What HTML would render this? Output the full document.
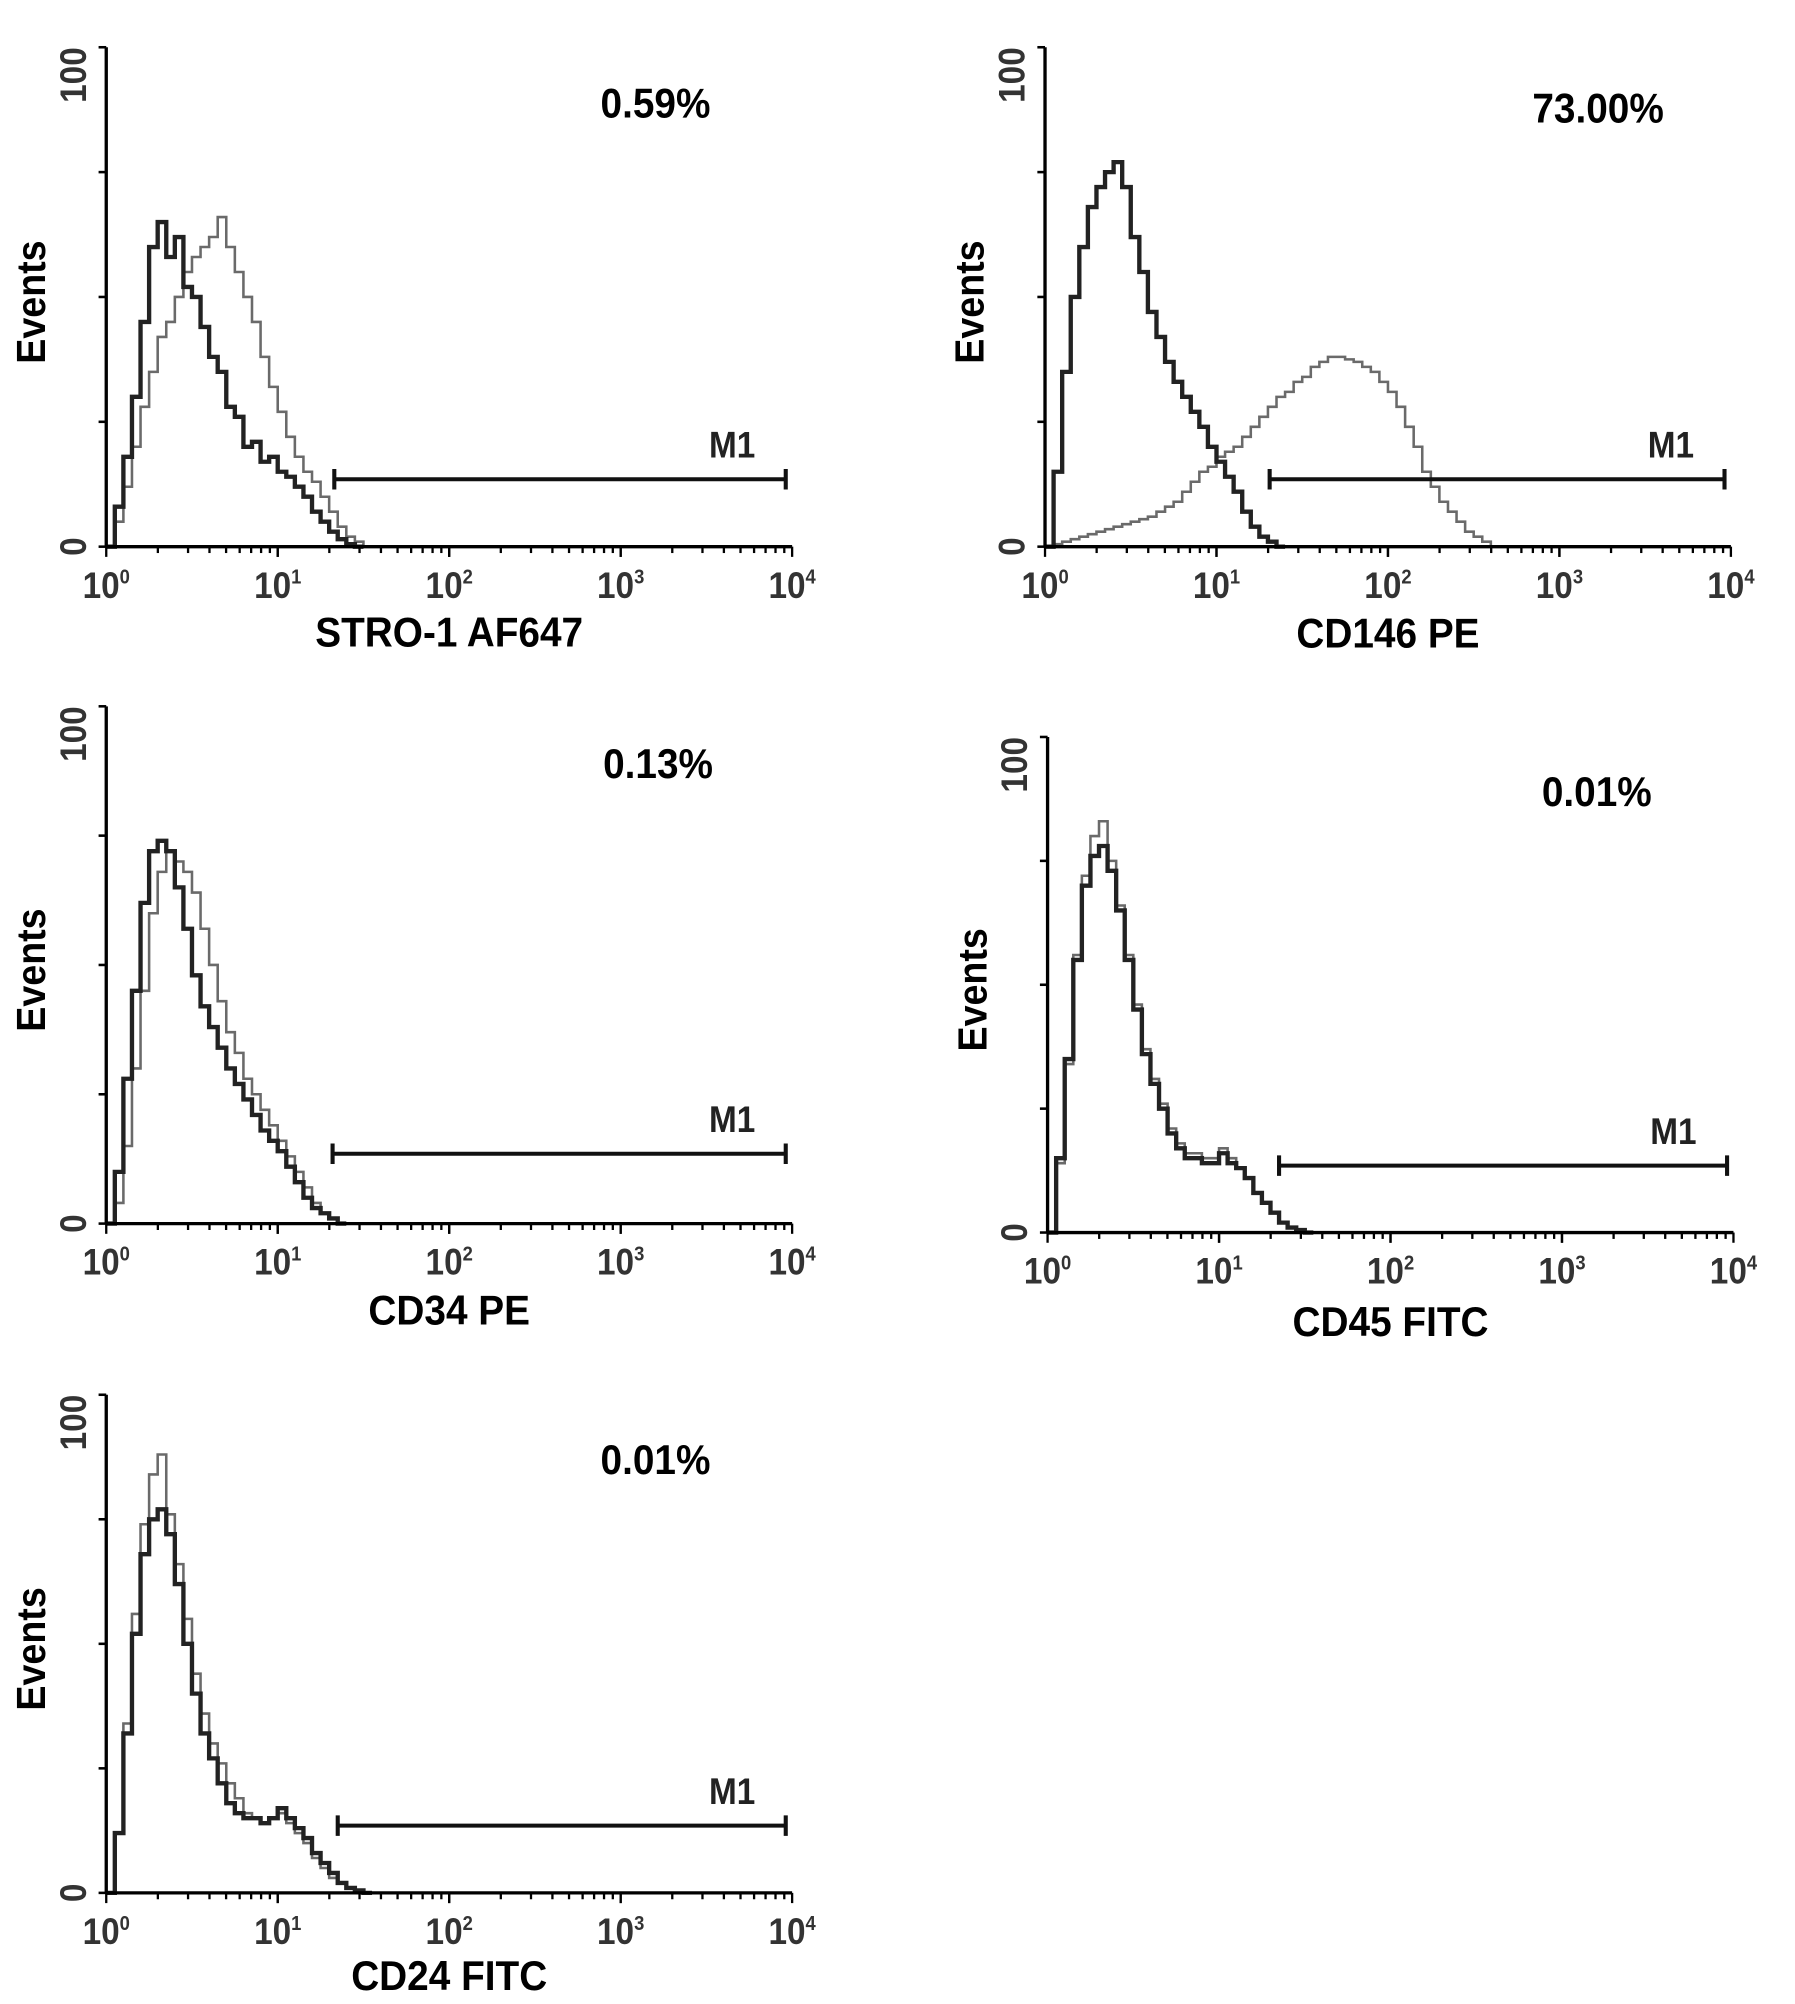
<!DOCTYPE html>
<html><head><meta charset="utf-8"><style>
html,body{margin:0;padding:0;background:#fff}
svg{display:block}
text{font-family:"Liberation Sans",Arial,sans-serif}
</style></head>
<body>
<svg id="fig" width="1795" height="2004" viewBox="0 0 1405 1569" xmlns="http://www.w3.org/2000/svg"></svg>
<script>
// Histogram counts (% of max events) sampled every 0.05 log10 decade starting at 10^0
const logStep = 0.05;
const stroDark = [0,8,18,30,45,60,65,58,62,52,50,44,38,35,28,26,20,21,17,18,15,14,12,10,7,5,3,1.5,0.5,0];
const stroGray = [0,5,12,20,28,35,42,45,50,55,58,60,62,66,60,55,50,45,38,32,27,22,18,15,13,10,7,4,2,1,0];
const cd146Dark = [0,15,35,50,60,68,72,75,77,72,62,55,47,42,37,33,30,27,24,20,17,14,11,7,4,2,1,0];
const cd146Gray = [0,0.5,1,1.5,2,2.5,3,3.5,4,4.5,5,5.5,6,7,8,9,11,13,15,16,18,19,20,22,24,26,28,30,31,33,34,36,37,38,38,37.5,37,36,35,33,31,28,24,20,15,12,9,7,5,3,2,1,0];
const cd34Dark = [0,10,28,45,62,72,74,72,65,57,48,42,38,34,30,27,24,21,18,16,14,11,8,5,3,2,1,0];
const cd34Gray = [0,4,15,30,45,60,68,72,70,68,64,57,50,43,37,33,28,25,22,19,16,13,10,7,4,2,1,0];
const cd45Dark = [0,15,35,55,70,76,78,73,65,55,45,36,30,25,20,17,15,15,14,14,16,14,13,11,8,6,4,2,1,0.5,0];
const cd45Gray = [0,14,34,56,72,80,83,75,66,56,46,37,31,26,21,18,16,16,15,15,17,15,13,11,8,6,4,2,1,0.5,0];
const cd24Dark = [0,12,32,52,68,75,77,72,62,50,40,32,27,22,18,16,15,15,14,15,17,15,13,11,8,6,4,2,1,0.5,0];
const cd24Gray = [0,12,34,56,74,84,88,76,66,55,44,36,30,26,22,19,16,15,14,15,16,14,12,10,7,5,3,2,1,0.5,0];
const tickLabels = ["0","100"];
const decadeExps = ["0","1","2","3","4"];
const percents = ["0.59%","73.00%","0.13%","0.01%","0.01%"];
const markerNames = ["STRO-1 AF647","CD146 PE","CD34 PE","CD45 FITC","CD24 FITC"];
const gateStart = [1.33, 1.31, 1.32, 1.35, 1.35];
const gateLevel = [13.5, 13.5, 13.5, 13.5, 13.5];

const panels = [
 {ax:83, top:37, zero:428, right:620, name:"stro1", dark:stroDark, gray:stroGray, pctX:513, pctY:92, lblY:506},
 {ax:818, top:37, zero:428, right:1355, name:"cd146", dark:cd146Dark, gray:cd146Gray, pctX:1251, pctY:96, lblY:507},
 {ax:83, top:553, zero:958, right:620, name:"cd34", dark:cd34Dark, gray:cd34Gray, pctX:515, pctY:609, lblY:1037},
 {ax:820, top:577, zero:965, right:1357, name:"cd45", dark:cd45Dark, gray:cd45Gray, pctX:1250, pctY:631, lblY:1046},
 {ax:83, top:1092, zero:1482, right:620, name:"cd24", dark:cd24Dark, gray:cd24Gray, pctX:513, pctY:1154, lblY:1558}
];
const NS="http://www.w3.org/2000/svg";
const svg=document.getElementById('fig');
function mk(tag,attrs,parent){const e=document.createElementNS(NS,tag);for(const k in attrs)e.setAttribute(k,attrs[k]);(parent||svg).appendChild(e);return e;}

panels.forEach((p,i)=>{
  const g=mk('g',{});
  
  
  const xs=l=>p.ax+(p.right-p.ax)*l/4;
  const ys=v=>p.zero-(p.zero-p.top)*v/100;
  function series(arr,color,w,nm){
    let d='';
    arr.forEach((v,j)=>{const x=xs(j*logStep), x2=xs((j+1)*logStep), y=ys(v);
      d+=(j===0?'M'+x+','+y:'L'+x+','+y)+'L'+x2+','+y;});
    const path=mk('path',{d:d,fill:'none',stroke:color,'stroke-width':w,'stroke-linejoin':'miter'},g);
    
    
  }
  series(p.gray,'#6a6a6a',2,p.name+'-stained-series');
  series(p.dark,'#222',3.4,p.name+'-isotype-series');
  const ya=mk('path',{d:`M${p.ax},${p.top}L${p.ax},${p.zero}`,stroke:'#000','stroke-width':2.6,fill:'none'},g);
  
  
  const xa=mk('path',{d:`M${p.ax},${p.zero}L${p.right},${p.zero}`,stroke:'#000','stroke-width':2.6,fill:'none'},g);
  
  
  for(let t=0;t<=4;t++){const y=ys(t*25);mk('path',{d:`M${p.ax-6},${y}L${p.ax},${y}`,stroke:'#000','stroke-width':2},g);}
  for(let dcd=0;dcd<4;dcd++){for(let m=1;m<=10;m++){const x=xs(dcd+Math.log10(m));const len=(m===1||m===10)?8:5;
    mk('path',{d:`M${x},${p.zero}L${x},${p.zero+len}`,stroke:'#000','stroke-width':1.8},g);}}
  [[0,tickLabels[0]],[100,tickLabels[1]]].forEach(([v,s])=>{
    const y=ys(v);
    const t=mk('text',{x:0,y:0,transform:`translate(${p.ax-16},${y}) rotate(-90) scale(0.9,1)`,'text-anchor':v===0?'middle':'end','font-size':29,'font-weight':'bold',fill:'#333'},g);
    t.textContent=s;
    
    
  });
  decadeExps.forEach((e,k)=>{
    const x=xs(k);
    const t=mk('text',{x:0,y:0,transform:`translate(${x},${p.zero+40}) scale(0.9,1)`,'text-anchor':'middle','font-size':29,'font-weight':'bold',fill:'#333'},g);
    t.textContent='10';
    const s=mk('tspan',{dy:-11,'font-size':16},t);s.textContent=e;
    
    
  });
  const ev=mk('text',{transform:`translate(${p.ax-48},${(p.top+p.zero)/2+4}) rotate(-90) scale(0.92,1)`,'text-anchor':'middle','font-size':32,'font-weight':'bold'},g);
  ev.textContent='Events';
  
  
  const xl=mk('text',{x:0,y:0,transform:`translate(${p.ax+(p.right-p.ax)*0.5},${p.lblY}) scale(0.92,1)`,'text-anchor':'middle','font-size':33,'font-weight':'bold'},g);
  xl.textContent=markerNames[i];
  
  
  const pc=mk('text',{x:0,y:0,transform:`translate(${p.pctX},${p.pctY}) scale(0.92,1)`,'text-anchor':'middle','font-size':33,'font-weight':'bold'},g);
  pc.textContent=percents[i];
  
  
  const gx1=xs(gateStart[i]), gx2=p.right-5, gy=ys(gateLevel[i]);
  const gate=mk('path',{d:`M${gx1},${gy}L${gx2},${gy}M${gx1},${gy-8}L${gx1},${gy+8}M${gx2},${gy-8}L${gx2},${gy+8}`,stroke:'#111','stroke-width':3.2,fill:'none'},g);
  
  
  const m1=mk('text',{x:0,y:0,transform:`translate(${gx2-42},${gy-17}) scale(0.9,1)`,'text-anchor':'middle','font-size':29,'font-weight':'bold',fill:'#222'},g);
  m1.textContent='M1';
  
  
});
</script>
</body></html>
